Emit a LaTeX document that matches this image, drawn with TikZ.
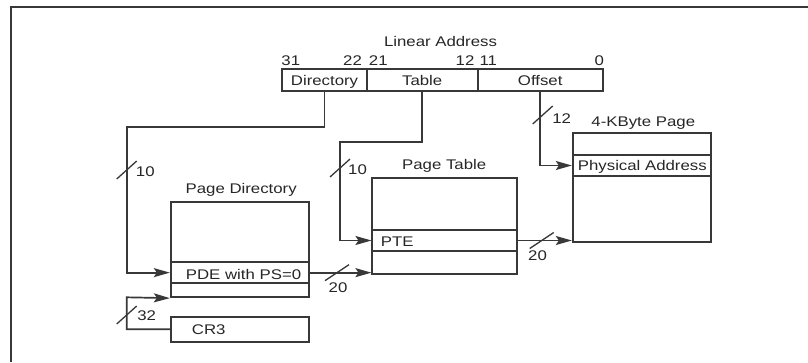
\documentclass[tikz,border=0pt]{standalone}
\usepackage{fontspec}
\setmainfont{Liberation Sans}[FakeStretch=1.2]
\usetikzlibrary{arrows.meta}
\begin{document}
\begin{tikzpicture}[x=1pt,y=-1pt,
  ln/.style={draw=black!78, line width=1.7pt},
  box/.style={ln, rectangle, inner sep=0pt, font=\fontsize{14}{14}\selectfont, text=black!85, text height=10pt, text depth=0pt},
  lab/.style={inner sep=0pt, anchor=base, font=\fontsize{14}{14}\selectfont, text=black!85},
  labw/.style={lab, anchor=base west},
  arr/.style={ln, -{Stealth[length=16pt,width=9pt,inset=3pt]}},
  tick/.style={draw=black!78, line width=1.3pt}]
\useasboundingbox (0,0) rectangle (808,362);
\draw[ln] (11,362) -- (11,7) -- (808,7);
% linear address
\node[lab] (lin) at (440.5,46) {Linear Address};
\node[lab] (b31) at (290.8,65) {31};
\node[lab] (b22) at (352.5,65) {22};
\node[lab] (b21) at (378.3,65) {21};
\node[lab] (b12) at (465,65) {12};
\node[lab] (b11) at (488.3,65) {11};
\node[lab] (b0) at (599.2,65) {0};
\node[box, minimum width=84.4, minimum height=21.4] (dir) at (324.5,80) {Directory};
\node[box, minimum width=111, minimum height=21.4] (tab) at (422.2,80) {Table};
\node[box, minimum width=125, minimum height=21.4] (off) at (540.2,80) {Offset};
% page directory
\node[lab] (pdl) at (241.2,193.5) {Page Directory};
\node[box, minimum width=138, minimum height=60.3] (pdtop) at (239.7,231.85) {};
\node[box, minimum width=138, minimum height=21.3] (pde) at (239.7,272.65) {};
\node[box, minimum width=138, minimum height=14] (pdb) at (239.7,290.3) {};
\node[labw] (pdet) at (185.7,279) {PDE with PS=0};
\node[box, minimum width=138, minimum height=25] (cr3) at (239.7,329.2) {};
\node[labw] (cr3t) at (191.7,334) {CR3};
% page table
\node[lab] (ptl) at (444.2,169) {Page Table};
\node[box, minimum width=145, minimum height=52.3] (pttop) at (444.8,203.85) {};
\node[box, minimum width=145, minimum height=21] (pte) at (444.8,240.5) {};
\node[box, minimum width=145, minimum height=23] (ptbot) at (444.8,262.5) {};
\node[labw] (ptet) at (380.7,246.5) {PTE};
% 4K page
\node[lab] (pgl) at (643.3,126) {4-KByte Page};
\node[box, minimum width=138, minimum height=21.7] (pgtop) at (641.7,144.15) {};
\node[box, minimum width=138, minimum height=21] (phys) at (641.7,165.5) {};
\node[box, minimum width=138, minimum height=66] (pgbot) at (641.7,209) {};
\node[labw] (physt) at (577.7,170.5) {Physical Address};
% connectors
\coordinate (k1) at (126.7,126.7);
\coordinate (k2) at (340,142.3);
\coordinate (k3) at (126.7,297.3);
\draw[arr] (dir.south) |- (k1) |- (pde.west);
\draw[arr] (tab.south) |- (k2) |- (pte.west);
\draw[arr] (off.south) |- (phys.west);
\draw[arr] (pde.east) -- (pde.east -| ptbot.west);
\draw[arr] (pte.east) -- (pte.east -| pgbot.west);
\draw[arr] (cr3.west) -| (k3) -- (pdb.south west);
% slashes
\draw[tick] (126.7,170) ++(-10,9) -- ++(20,-18);
\draw[tick] (340,168) ++(-10,9) -- ++(20,-18);
\draw[tick] (542.7,115) ++(-10,9) -- ++(20,-18);
\draw[tick] (126.7,315) ++(-10,9) -- ++(20,-18);
\draw[tick] (337,272.65) ++(-12,8) -- ++(24,-16);
\draw[tick] (541.7,240.5) ++(-12,8) -- ++(24,-16);
% widths
\node[lab] (w10a) at (145.3,176) {10};
\node[lab] (w10b) at (357.5,174) {10};
\node[lab] (w12) at (561.7,123.3) {12};
\node[lab] (w32) at (146.7,320.7) {32};
\node[lab] (w20a) at (338,292.3) {20};
\node[lab] (w20b) at (537.5,260.7) {20};
\end{tikzpicture}
\end{document}
